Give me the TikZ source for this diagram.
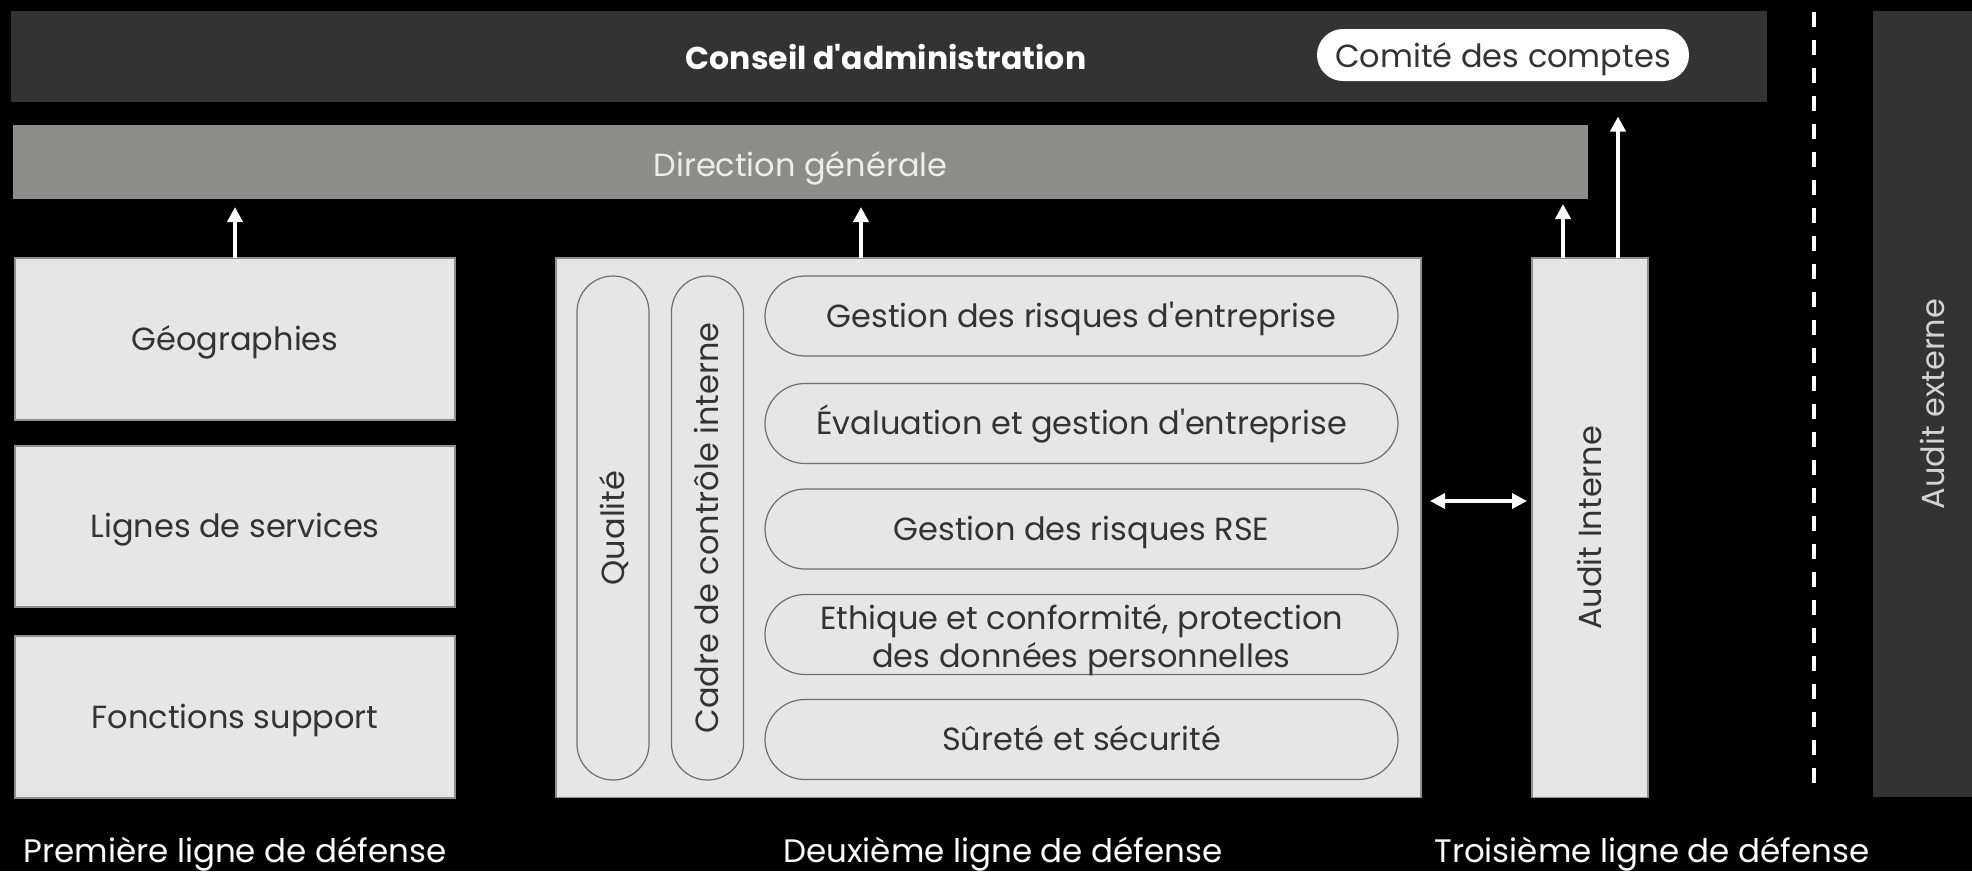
\documentclass[tikz,border=0pt]{standalone}
\usepackage{fontspec}
\setmainfont{Poppins}[Ligatures=TeXOff]
\usetikzlibrary{arrows.meta}
\definecolor{darkband}{HTML}{333333}
\definecolor{dirband}{HTML}{8C8D8B}
\definecolor{boxfill}{HTML}{E6E6E6}
\definecolor{boxline}{HTML}{8F8F8F}
\definecolor{pillline}{HTML}{6E6E6E}
\definecolor{txt}{HTML}{333333}
\definecolor{dirtext}{HTML}{EDEDED}
\definecolor{extext}{HTML}{D2D2D2}
\newcommand{\fsz}[1]{\fontsize{#1}{#1}\selectfont}
\begin{document}
\begin{tikzpicture}[x=1pt,y=-1pt,
  every node/.style={inner sep=0pt, outer sep=0pt},
  capc/.style={text height=22.4pt, text depth=0pt},
  lbox/.style={rectangle, fill=boxfill, draw=boxline, line width=1.2pt, text=txt, font=\fsz{32}, capc},
  hpill/.style={rectangle, rounded corners=40pt, fill=boxfill, draw=pillline, line width=1.2pt,
    minimum width=633pt, minimum height=80pt, text=txt, font=\fsz{32}, capc},
  vpill/.style={rectangle, rounded corners=36pt, fill=boxfill, draw=pillline, line width=1.2pt,
    minimum width=72pt, minimum height=504pt},
  vtext/.style={rotate=90, text=txt, font=\fsz{32}, capc},
  arr/.style={draw=white, line width=4pt, -{Triangle[width=15pt,length=15pt]}},
  darr/.style={draw=white, line width=3.5pt, {Triangle[width=15pt,length=15pt]}-{Triangle[width=15pt,length=15pt]}},
  sep/.style={draw=white, line width=4pt, dash pattern=on 15pt off 13pt},
  lineLabel/.style={text=white, font=\fsz{32.5}, anchor=base}
]
\fill[black] (0,0) rectangle (1972,871);
\useasboundingbox (0,0) rectangle (1972,871);

% top bands
\node[rectangle, fill=darkband, minimum width=1756pt, minimum height=91pt] (ca) at (889,56) {};
\node[text=white, font=\fsz{31.5}\bfseries, capc] (catext) at (886,58.5) {Conseil d'administration};
\node[rectangle, rounded corners=26pt, fill=white, minimum width=372pt, minimum height=52pt] (cc) at (1503,55) {};
\node[text=txt, font=\fsz{32}, capc] (cctext) at (1503,56) {Comité des comptes};
\node[rectangle, fill=dirband, minimum width=1575pt, minimum height=74pt] (dg) at (800.5,162) {};
\node[text=dirtext, font=\fsz{32}, capc] (dgtext) at (800.5,165) {Direction générale};

% first line
\node[lbox, minimum width=440pt, minimum height=162pt] (geo) at (235,339) {Géographies};
\node[lbox, minimum width=440pt, minimum height=161pt] (lig) at (235,526.5) {Lignes de services};
\node[lbox, minimum width=440pt, minimum height=162pt] (fon) at (235,717) {Fonctions support};

% second line
\node[lbox, minimum width=865pt, minimum height=539.5pt] (sec) at (988.5,527.75) {};
\node[vpill] (qual) at (613,528) {};
\node[vtext] at (qual.center) {Qualité};
\node[vpill] (cadre) at (707.5,528) {};
\node[vtext] at (cadre.center) {Cadre de contrôle interne};
\node[hpill] (p1) at (1081.5,316) {Gestion des risques d'entreprise};
\node[hpill] (p2) at (1081.5,423.5) {Évaluation et gestion d'entreprise};
\node[hpill] (p3) at (1081.5,529) {Gestion des risques RSE};
\node[hpill] (p4) at (1081.5,634.5) {};
\node[text=txt, font=\fsz{32}, align=center] (p4text) at (1081.5,640) {Ethique et conformité, protection\\[4pt]des données personnelles};
\node[hpill] (p5) at (1081.5,739.5) {Sûreté et sécurité};

% third line
\node[lbox, minimum width=116pt, minimum height=539.5pt] (ai) at (1590,527.75) {};
\node[vtext] at (ai.center) {Audit Interne};

% external audit
\node[rectangle, fill=darkband, minimum width=120pt, minimum height=786.5pt] (ae) at (1933,404) {};
\node[rotate=90, text=extext, font=\fsz{32}, capc] at (ae.center) {Audit externe};

% arrows
\coordinate (a1) at (geo.north);
\coordinate (a2) at (861,258);
\coordinate (a3) at (1563,258);
\coordinate (a4) at (1618,258);
\draw[arr, shorten >=8pt] (a1) -- (a1 |- dg.south);
\draw[arr, shorten >=8pt] (a2) -- (a2 |- dg.south);
\draw[arr, shorten >=5pt] (a3) -- (a3 |- dg.south);
\draw[arr, shorten >=15pt] (a4) -- (a4 |- ca.south);
\coordinate (d1) at (1430,501);
\coordinate (d2) at (1527,501);
\draw[darr] (d1) -- (d2);

% separator
\coordinate (s1) at (1814,12);
\coordinate (s2) at (1814,789);
\draw[sep] (s1) -- (s2);

% line labels
\node[lineLabel] (l1) at (235,862) {Première ligne de défense};
\node[lineLabel] (l2) at (1003,862) {Deuxième ligne de défense};
\node[lineLabel] (l3) at (1652,862) {Troisième ligne de défense};
\end{tikzpicture}
\end{document}
